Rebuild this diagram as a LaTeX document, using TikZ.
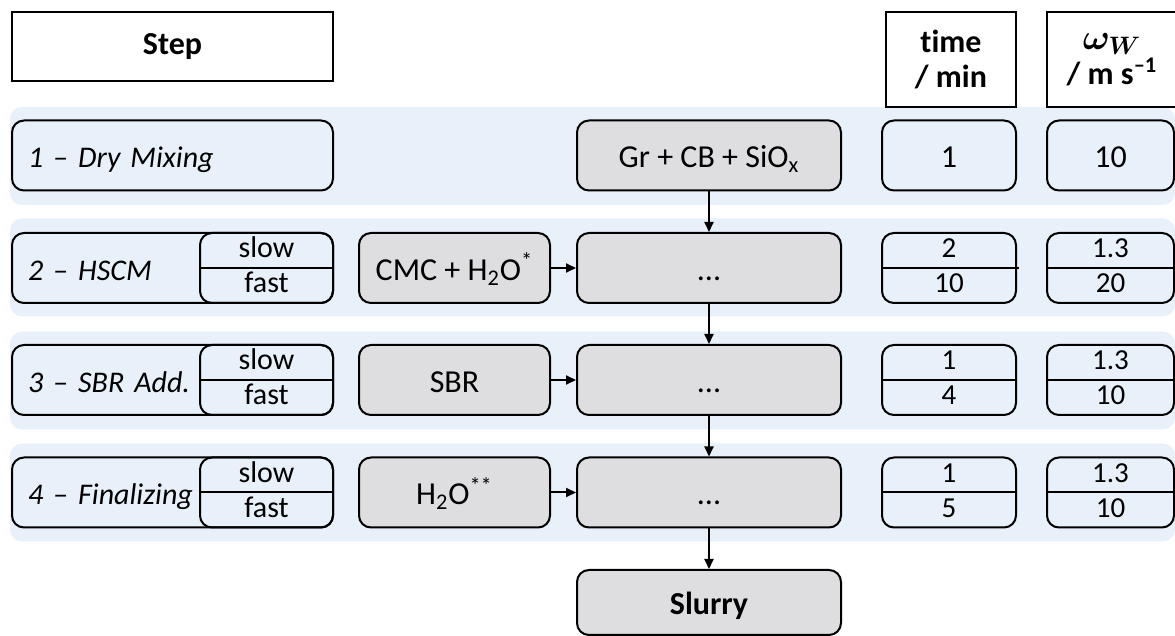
\documentclass[tikz,border=0pt]{standalone}
\usepackage{fix-cm}
\usepackage{fontspec}
\setmainfont{Carlito}[Ligatures=NoCommon]
\usepackage{bm}
\usetikzlibrary{arrows.meta}
\definecolor{bandblue}{RGB}{232,241,250}
\definecolor{boxgray}{RGB}{222,222,224}
\begin{document}
\begin{tikzpicture}[x=0.5pt,y=-0.5pt,
  every node/.style={inner sep=0pt, font=\fontsize{16}{19}\selectfont},
  bandbg/.style={fill=bandblue, rounded corners=6pt, minimum width=582.5pt, minimum height=49pt},
  hdrbox/.style={draw, line width=1pt, fill=white, align=center, font=\fontsize{16}{17.5}\selectfont\bfseries},
  rbox/.style={draw, line width=1pt, rounded corners=6pt, minimum height=35pt, text height=14pt, text depth=1.5pt},
  stepbox/.style={rbox, text width=144.5pt, inner xsep=8pt, align=left, font=\fontsize{15}{18}\selectfont\itshape},
  subbox/.style={draw, line width=1pt, rounded corners=6pt, minimum width=66.5pt, minimum height=35pt},
  small/.style={font=\fontsize{15}{17}\selectfont, text height=10.5pt, text depth=3pt},
  valtxt/.style={font=\fontsize{14.5}{17}\selectfont, text height=10.5pt, text depth=3pt},
  matbox/.style={rbox, fill=boxgray},
  ingbox/.style={matbox, minimum width=95.5pt},
  midbox/.style={matbox, minimum width=132pt},
  timebox/.style={rbox, minimum width=67pt},
  omegabox/.style={rbox, minimum width=63.5pt},
  arr/.style={line width=1pt, -{Triangle[length=5pt,width=4.5pt]}}
]
\useasboundingbox (0,0) rectangle (1175,636);

% background bands
\node[bandbg] (band1) at (592.5,156) {};
\node[bandbg] (band2) at (592.5,267.5) {};
\node[bandbg] (band3) at (592.5,380.5) {};
\node[bandbg] (band4) at (592.5,492.5) {};

% headers
\node[hdrbox, minimum width=160.5pt, minimum height=34.5pt] (hstep) at (172.5,46.5) {Step};
\node[hdrbox, minimum width=65pt, minimum height=47.5pt] (htime) at (951,59.5) {time\\/ min};
\node[hdrbox, minimum width=65pt, minimum height=47.5pt] (homega) at (1112,59.5) {\fontsize{18}{17.5}\selectfont$\bm{\omega_{W}}$\\/ m s\textsuperscript{\textendash1}};

% step boxes
\node[stepbox] (step1) at (172.5,155.5) {1 \textendash{} Dry Mixing};
\node[stepbox] (step2) at (172.5,268) {2 \textendash{} HSCM};
\node[stepbox] (step3) at (172.5,380) {3 \textendash{} SBR Add.};
\node[stepbox] (step4) at (172.5,492.5) {4 \textendash{} Finalizing};

% slow / fast sub boxes
\node[subbox] (sub2) at (266.5,268) {};
\draw[line width=1pt] (sub2.west) -- (sub2.east);
\node[small] (slow2) at (266.5,250.5) {slow};
\node[small] (fast2) at (266.5,285.5) {fast};
\node[subbox] (sub3) at (266.5,380) {};
\draw[line width=1pt] (sub3.west) -- (sub3.east);
\node[small] (slow3) at (266.5,362.5) {slow};
\node[small] (fast3) at (266.5,397.5) {fast};
\node[subbox] (sub4) at (266.5,492.5) {};
\draw[line width=1pt] (sub4.west) -- (sub4.east);
\node[small] (slow4) at (266.5,475) {slow};
\node[small] (fast4) at (266.5,510) {fast};

% ingredient boxes
\node[ingbox] (ing2) at (454.5,268) {CMC + H\textsubscript{2}O\textsuperscript{*}};
\node[ingbox] (ing3) at (454.5,380) {SBR};
\node[ingbox] (ing4) at (454.5,492.5) {H\textsubscript{2}O\textsuperscript{**}};

% main column
\node[midbox] (mid1) at (709,155.5) {Gr + CB + SiO\textsubscript{x}};
\node[midbox] (mid2) at (709,268) {...};
\node[midbox] (mid3) at (709,380) {...};
\node[midbox] (mid4) at (709,492.5) {...};
\node[midbox, minimum height=32.5pt, font=\fontsize{16}{19}\selectfont\bfseries] (slurry) at (709,602.5) {Slurry};

\draw[arr] (mid1.south) -- (mid2.north);
\draw[arr] (mid2.south) -- (mid3.north);
\draw[arr] (mid3.south) -- (mid4.north);
\draw[arr] (mid4.south) -- (slurry.north);
\draw[arr] (ing2.east) -- (mid2.west);
\draw[arr] (ing3.east) -- (mid3.west);
\draw[arr] (ing4.east) -- (mid4.west);

% time values
\node[timebox] (t1) at (949,155.5) {1};
\node[timebox] (t2) at (949,268) {};
\draw[line width=1pt] (t2.west) -- ([xshift=1pt]t2.east);
\node[valtxt] (t2a) at (949,250.5) {2};
\node[valtxt] (t2b) at (949,285.5) {10};
\node[timebox] (t3) at (949,380) {};
\draw[line width=1pt] (t3.west) -- (t3.east);
\node[valtxt] (t3a) at (949,362.5) {1};
\node[valtxt] (t3b) at (949,397.5) {4};
\node[timebox] (t4) at (949,492.5) {};
\draw[line width=1pt] (t4.west) -- (t4.east);
\node[valtxt] (t4a) at (949,475) {1};
\node[valtxt] (t4b) at (949,510) {5};

% omega values
\node[omegabox] (w1) at (1110.5,155.5) {10};
\node[omegabox] (w2) at (1110.5,268) {};
\draw[line width=1pt] (w2.west) -- (w2.east);
\node[valtxt] (w2a) at (1110.5,250.5) {1.3};
\node[valtxt] (w2b) at (1110.5,285.5) {20};
\node[omegabox] (w3) at (1110.5,380) {};
\draw[line width=1pt] (w3.west) -- (w3.east);
\node[valtxt] (w3a) at (1110.5,362.5) {1.3};
\node[valtxt] (w3b) at (1110.5,397.5) {10};
\node[omegabox] (w4) at (1110.5,492.5) {};
\draw[line width=1pt] (w4.west) -- (w4.east);
\node[valtxt] (w4a) at (1110.5,475) {1.3};
\node[valtxt] (w4b) at (1110.5,510) {10};
\end{tikzpicture}
\end{document}
